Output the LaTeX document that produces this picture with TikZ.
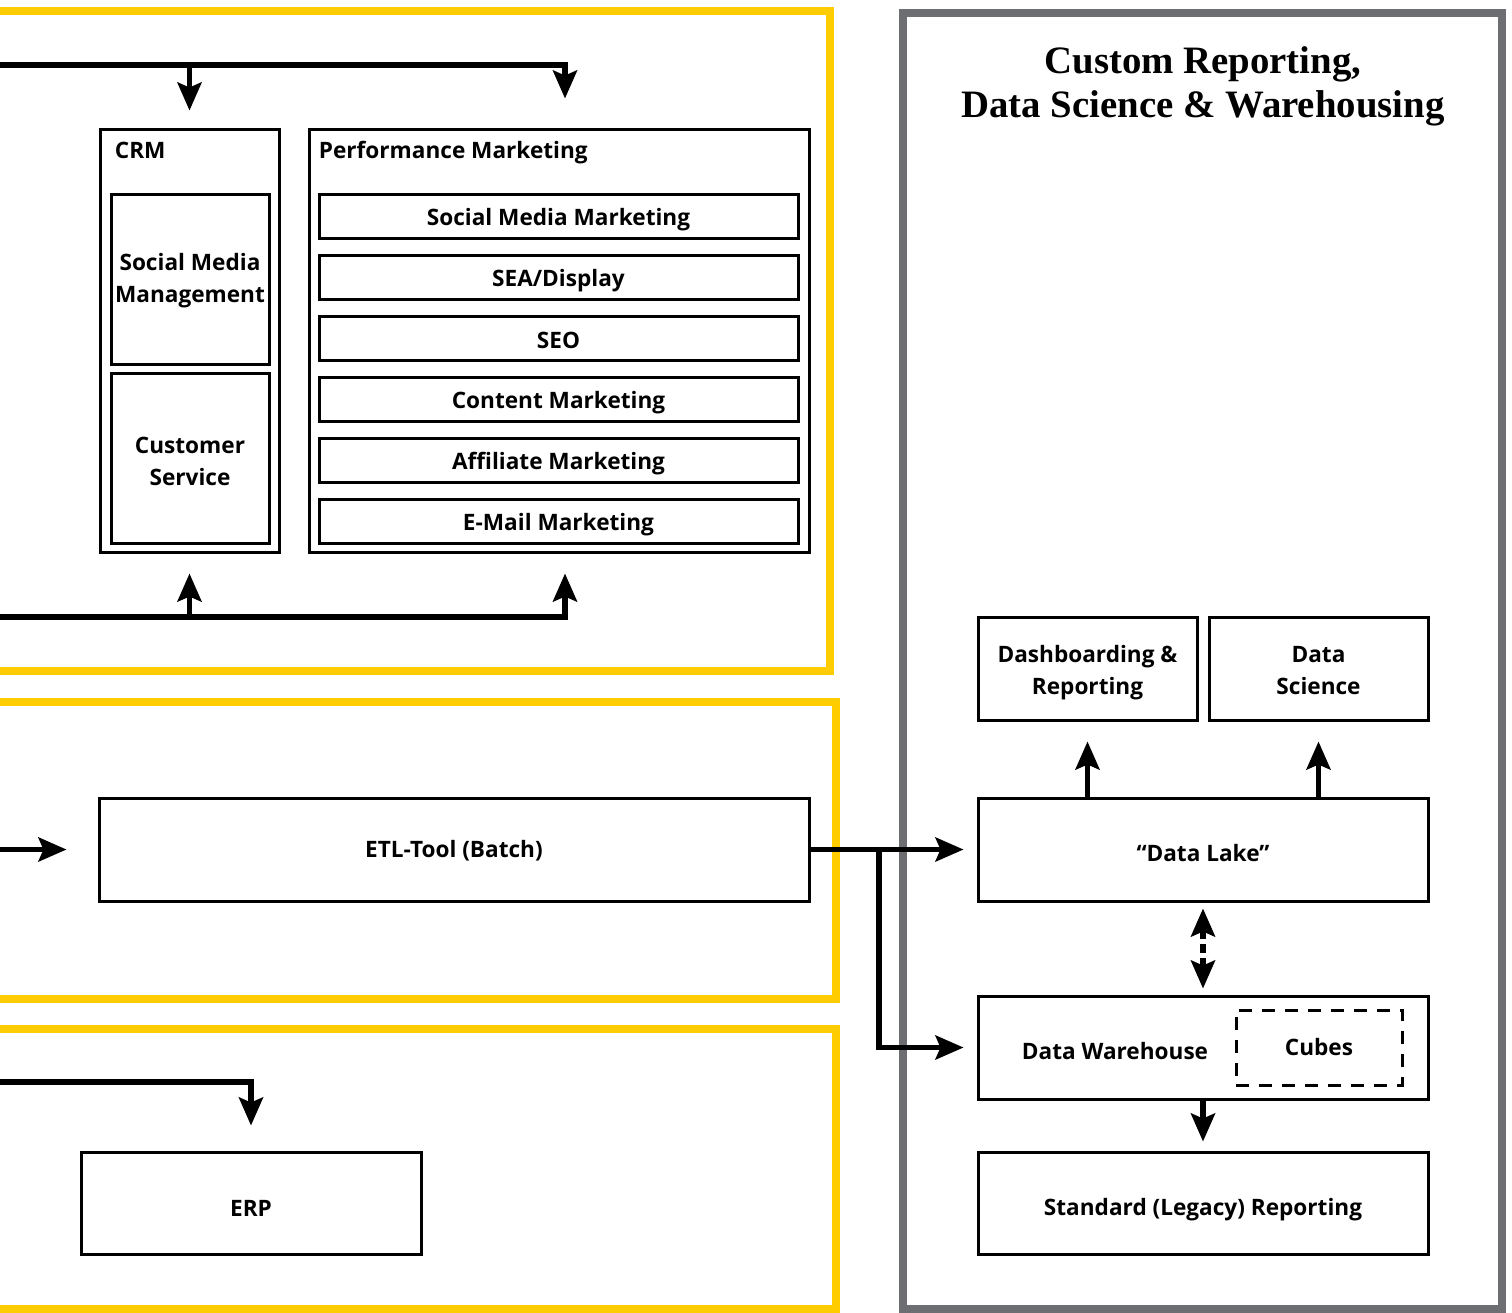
\documentclass[tikz,border=0pt]{standalone}
\usepackage{fontspec}
\setmainfont{Open Sans}
\newfontfamily\titlefont{Liberation Serif}
\usetikzlibrary{arrows.meta}
\definecolor{frameyellow}{RGB}{255,204,0}
\definecolor{framegray}{RGB}{108,110,114}
\tikzset{
  box/.style={draw, line width=1.5pt, inner sep=0pt},
  lbl/.style={inner sep=0pt, align=center, font=\bfseries\fontsize{11.3}{16}\selectfont},
  txt/.style={lbl, yshift=-2pt},
  flow/.style={line width=2.6pt, -{Stealth[length=14pt,width=12pt,inset=2.5pt]}},
  bothflow/.style={line width=2.6pt, dash pattern=on 4.5pt off 2.5pt,
    {Stealth[length=14pt,width=12pt,inset=2.5pt]}-{Stealth[length=14pt,width=12pt,inset=2.5pt]}},
}
\begin{document}
\begin{tikzpicture}[x=0.5pt,y=-0.5pt]
  \useasboundingbox (0,0) rectangle (1512,1313);
  \draw[frameyellow, line width=4pt] (-20,11) rectangle (830,671);
  \draw[frameyellow, line width=4pt] (-20,702) rectangle (836,999);
  \draw[frameyellow, line width=4pt] (-20,1029) rectangle (836,1309);
  \draw[framegray, line width=4pt] (903,13) rectangle (1502,1309);

  \node[lbl, font=\titlefont\bfseries\fontsize{19.4}{22}\selectfont] (title) at (1203,86)
    {Custom Reporting,\\Data Science \& Warehousing};

  \node[box, minimum width=89.5pt, minimum height=211.5pt] (crm) at (189.5,340.5) {};
  \node[lbl, anchor=base west] (crmlbl) at ([xshift=8pt,yshift=-15.3pt]crm.north west) {CRM};
  \node[box, minimum width=79pt, minimum height=85pt,
    label={[txt, yshift=1pt]center:{Social Media\\Management}}] (smmgmt) at (190,279) {};
  \node[box, minimum width=79pt, minimum height=85pt,
    label={[txt, yshift=0.5pt]center:{Customer\\Service}}] (custsrv) at (190,458) {};

  \node[box, minimum width=250pt, minimum height=211.5pt] (pm) at (559,340.5) {};
  \node[lbl, anchor=base west] (pmlbl) at ([xshift=5.5pt,yshift=-15.3pt]pm.north west) {Performance Marketing};
  \node[box, minimum width=239.5pt, minimum height=22pt, label={[txt]center:Social Media Marketing}] (smm) at (558.5,216) {};
  \node[box, minimum width=239.5pt, minimum height=22pt, label={[txt]center:SEA/Display}] (sea) at (558.5,277) {};
  \node[box, minimum width=239.5pt, minimum height=22pt, label={[txt, yshift=1pt]center:SEO}] (seo) at (558.5,338) {};
  \node[box, minimum width=239.5pt, minimum height=22pt, label={[txt]center:Content Marketing}] (content) at (558.5,399) {};
  \node[box, minimum width=239.5pt, minimum height=22pt, label={[txt]center:Affiliate Marketing}] (affiliate) at (558.5,460) {};
  \node[box, minimum width=239.5pt, minimum height=22pt, label={[txt]center:E-Mail Marketing}] (email) at (558.5,521) {};

  \node[box, minimum width=355pt, minimum height=51.5pt, label={[txt, yshift=1.5pt]center:ETL-Tool (Batch)}] (etl) at (454,849.5) {};
  \node[box, minimum width=170pt, minimum height=51pt, label={[txt, yshift=-0.5pt]center:ERP}] (erp) at (251,1203) {};

  \node[box, minimum width=109.5pt, minimum height=51.5pt,
    label={[txt]center:{Dashboarding \&\\Reporting}}] (dash) at (1087.5,668.5) {};
  \node[box, minimum width=109.5pt, minimum height=51.5pt,
    label={[txt, yshift=1pt]center:{Data\\Science}}] (sci) at (1318.5,668.5) {};
  \node[box, minimum width=225pt, minimum height=51.5pt, label={[txt]center:“Data Lake”}] (lake) at (1203,849.5) {};
  \node[box, minimum width=225pt, minimum height=51.5pt] (dwh) at (1203,1047.5) {};
  \node[lbl] (dwhlbl) at (1115,1051) {Data Warehouse};
  \node[box, dash pattern=on 6.5pt off 5pt, minimum width=83pt, minimum height=37.5pt,
    label={[lbl]center:Cubes}] (cubes) at (1319,1047.5) {};
  \node[box, minimum width=225pt, minimum height=51pt,
    label={[txt, yshift=-1.5pt]center:Standard (Legacy) Reporting}] (legacy) at (1203,1203) {};

  \coordinate (bustop) at (-5,65);
  \coordinate (busbot) at (-5,617);
  \coordinate (etlin) at (-5,849.5);
  \coordinate (erpin) at (-5,1082);
  \coordinate (split) at (879,849.5);

  \draw[flow, shorten >=14.5pt] (bustop) -| ([xshift=3pt]pm.north);
  \draw[flow, shorten >=8.5pt] (bustop -| crm.north) -- (crm.north);
  \draw[flow, shorten >=10pt] (busbot) -| ([xshift=3pt]pm.south);
  \draw[flow, shorten >=10pt] (busbot -| crm.south) -- (crm.south);
  \draw[flow, shorten >=15.5pt] (etlin) -- (etl.west);
  \draw[flow, shorten >=6.5pt] (etl.east) -- (lake.west);
  \draw[flow, shorten >=6.5pt] (split) |- (dwh.west);
  \draw[flow, shorten >=12.5pt] (erpin) -| (erp.north);
  \draw[flow, shorten >=10pt] (lake.north -| dash.south) -- (dash.south);
  \draw[flow, shorten >=10pt] (lake.north -| sci.south) -- (sci.south);
  \draw[bothflow, shorten <=3pt, shorten >=3pt] (lake.south) -- (dwh.north);
  \draw[flow, shorten >=4.5pt] (dwh.south) -- (legacy.north);
\end{tikzpicture}
\end{document}
